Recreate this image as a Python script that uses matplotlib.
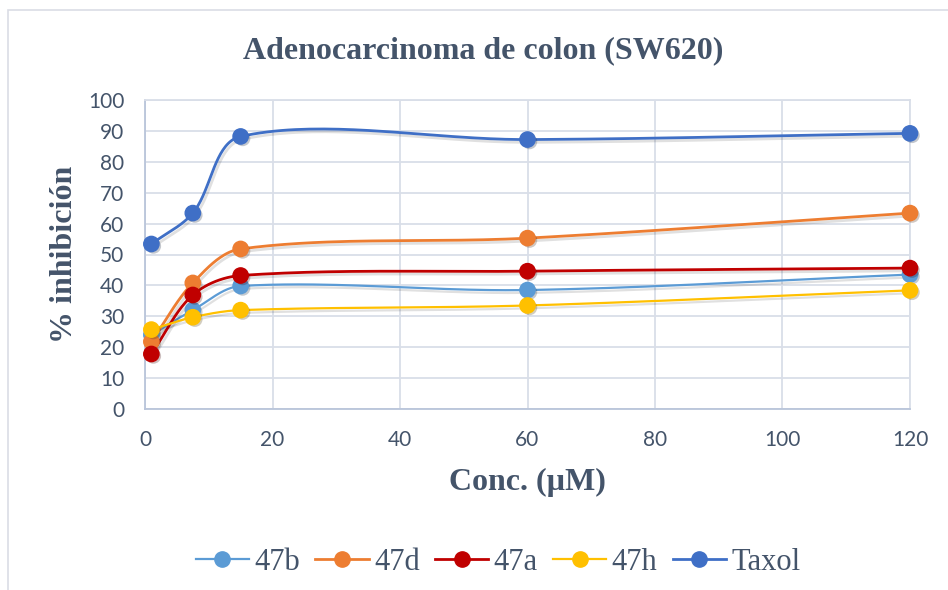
import numpy as np
import matplotlib
matplotlib.use("Agg")
import matplotlib.pyplot as plt
from matplotlib.lines import Line2D
from matplotlib.patches import Rectangle
import matplotlib.patheffects as pe

# Datos
conc = [1, 7.5, 15, 60, 120]
series_names = ["47b", "47d", "47a", "47h", "Taxol"]
inh_47b = [24.0, 32.0, 39.8, 38.5, 43.5]
inh_47d = [21.8, 40.8, 51.8, 55.3, 63.4]
inh_47a = [17.8, 36.9, 43.2, 44.6, 45.6]
inh_47h = [25.7, 29.7, 32.0, 33.5, 38.4]
inh_taxol = [53.4, 63.4, 88.2, 87.2, 89.2]
colores = ["#5B9BD5", "#ED7D31", "#C00000", "#FFC000", "#3F6FC6"]

text_col = "#44546A"
grid_col = "#D9DEE8"


def excel_smooth(ax, xs, ys, n=40):
    # suavizado tipo Excel (Bezier cubica) calculado en pixeles
    pts = ax.transData.transform(np.column_stack([xs, ys]))
    p = np.vstack([pts[0], pts, pts[-1]])
    seg = np.linalg.norm(np.diff(p, axis=0), axis=1)
    tang = []
    for i in range(1, len(p) - 1):
        den = seg[i - 1] + seg[i]
        tang.append((p[i + 1] - p[i - 1]) / den if den > 0 else np.zeros(2))
    curva = []
    for i in range(1, len(p) - 2):
        p0, p3 = p[i], p[i + 1]
        largo = seg[i] / 3.0
        c1 = p0 + tang[i - 1] * largo
        c2 = p3 - tang[i] * largo
        t = np.linspace(0, 1, n)[:, None]
        b = (1 - t) ** 3 * p0 + 3 * (1 - t) ** 2 * t * c1 + 3 * (1 - t) * t ** 2 * c2 + t ** 3 * p3
        curva.append(b if i == 1 else b[1:])
    curva = np.vstack(curva)
    return ax.transData.inverted().transform(curva)


fig = plt.figure(figsize=(9.48, 5.90), dpi=100)
ax = fig.add_axes([145 / 948, 181 / 590, 765 / 948, 309 / 590])
ax.set_xlim(0, 120)
ax.set_ylim(0, 100)

# borde del grafico
fig.patches.append(Rectangle((7.5 / 948, -0.1), 1.2, (580 / 590) + 0.1, transform=fig.transFigure,
                             fill=False, edgecolor="#DADDE5", linewidth=1.2))

ax.set_xticks(range(0, 121, 20))
ax.set_yticks(range(0, 101, 10))
ax.grid(True, color=grid_col, linewidth=1.3)
ax.set_axisbelow(True)
for s in ["top", "right"]:
    ax.spines[s].set_color(grid_col)
    ax.spines[s].set_linewidth(1.3)
for s in ["left", "bottom"]:
    ax.spines[s].set_color("#B9C5DA")
    ax.spines[s].set_linewidth(1.3)
ax.tick_params(length=0, pad=15, labelsize=15, labelcolor=text_col)
for lab in ax.get_xticklabels() + ax.get_yticklabels():
    lab.set_family("Lato")

sombra = [pe.SimplePatchShadow(offset=(1.5, -1.5), alpha=0.25), pe.Normal()]

datos = [inh_47b, inh_47d, inh_47a, inh_47h, inh_taxol]
handles = []
for nombre, ys, c in zip(series_names, datos, colores):
    curva = excel_smooth(ax, conc, ys)
    lw = 2.0 if nombre in ("47a", "Taxol", "47d") else 1.6
    ax.plot(curva[:, 0], curva[:, 1], color=c, linewidth=lw, zorder=3,
            path_effects=[pe.SimpleLineShadow(offset=(1.5, -2), alpha=0.12), pe.Normal()])
    ax.plot(conc, ys, linestyle="none", marker="o", markersize=11, color=c,
            markeredgecolor=c, zorder=4, clip_on=False,
            path_effects=sombra)
    handles.append(Line2D([0], [0], color=c, linewidth=lw, marker="o", markersize=11,
                          markeredgecolor=c, label=nombre))

fig.text(483 / 948, 1 - 51 / 590, "Adenocarcinoma de colon (SW620)", ha="center", va="center",
         family="Liberation Serif", weight="bold", fontsize=23, color=text_col)
ax.set_xlabel("Conc. (µM)", family="Liberation Serif", weight="bold", fontsize=23,
              color=text_col, labelpad=13)
ax.set_ylabel("% inhibición", family="Liberation Serif", weight="bold", fontsize=23,
              color=text_col, labelpad=6)

fig.legend(handles=handles, loc="center", bbox_to_anchor=(498 / 948, 1 - 562 / 590), ncol=5,
           frameon=False, prop={"family": "Liberation Serif", "size": 22}, labelcolor=text_col,
           handlelength=1.75, handletextpad=0.17, columnspacing=0.5)

fig.savefig("out.png", dpi=100, facecolor="white")
